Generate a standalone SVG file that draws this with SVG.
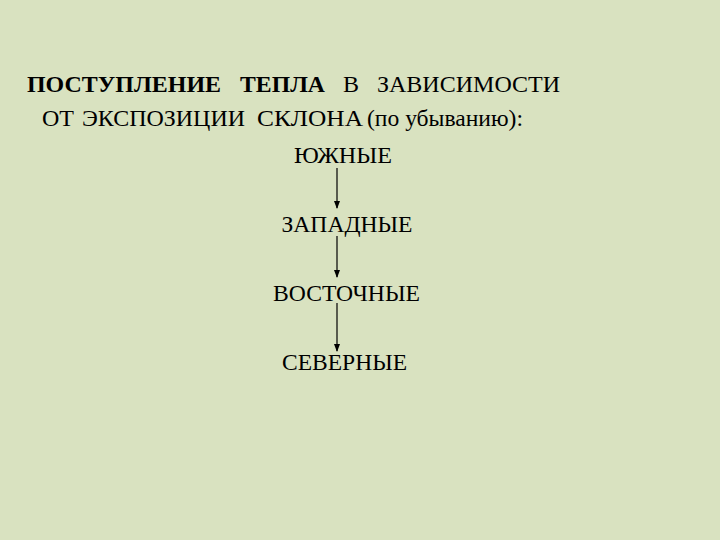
<svg xmlns="http://www.w3.org/2000/svg" width="720" height="540" viewBox="0 0 720 540">
<style>
text{font-family:'Liberation Serif','DejaVu Serif','Times New Roman',serif;font-size:24px;fill:#000}
.b{font-weight:bold}
.n{text-anchor:middle}
.c{stroke:#000;stroke-width:1.2;fill:none}
</style>
<defs><marker id="ah" markerWidth="8" markerHeight="8" refX="7" refY="4" orient="auto" markerUnits="userSpaceOnUse"><path d="M0,1 L8,4 L0,7 Z" fill="#000"/></marker></defs>
<rect width="720" height="540" fill="#d9e2c0"/>
<g id="title">
<text x="27" y="92" class="b" textLength="194" lengthAdjust="spacingAndGlyphs">ПОСТУПЛЕНИЕ</text>
<text x="240" y="92" class="b" textLength="85" lengthAdjust="spacingAndGlyphs">ТЕПЛА</text>
<text x="343" y="92">В</text>
<text x="377" y="92" textLength="183" lengthAdjust="spacingAndGlyphs">ЗАВИСИМОСТИ</text>
<text x="42" y="126">ОТ</text>
<text x="82" y="126" textLength="163" lengthAdjust="spacingAndGlyphs">ЭКСПОЗИЦИИ</text>
<text x="257" y="126" textLength="106" lengthAdjust="spacingAndGlyphs">СКЛОНА</text>
<text x="367" y="126" textLength="156" lengthAdjust="spacingAndGlyphs">(по убыванию):</text>
</g>
<g id="south"><text x="343" y="163" class="n" textLength="98" lengthAdjust="spacingAndGlyphs">ЮЖНЫЕ</text></g>
<g id="west"><text x="347" y="232" class="n" textLength="131" lengthAdjust="spacingAndGlyphs">ЗАПАДНЫЕ</text></g>
<g id="east"><text x="346.5" y="301" class="n" textLength="147" lengthAdjust="spacingAndGlyphs">ВОСТОЧНЫЕ</text></g>
<g id="north"><text x="344.5" y="370" class="n" textLength="125" lengthAdjust="spacingAndGlyphs">СЕВЕРНЫЕ</text></g>
<g id="connectors">
<line class="c" x1="337" y1="168" x2="337" y2="208" marker-end="url(#ah)"/>
<line class="c" x1="337" y1="236" x2="337" y2="277" marker-end="url(#ah)"/>
<line class="c" x1="337" y1="303" x2="337" y2="351" marker-end="url(#ah)"/>
</g>
</svg>
